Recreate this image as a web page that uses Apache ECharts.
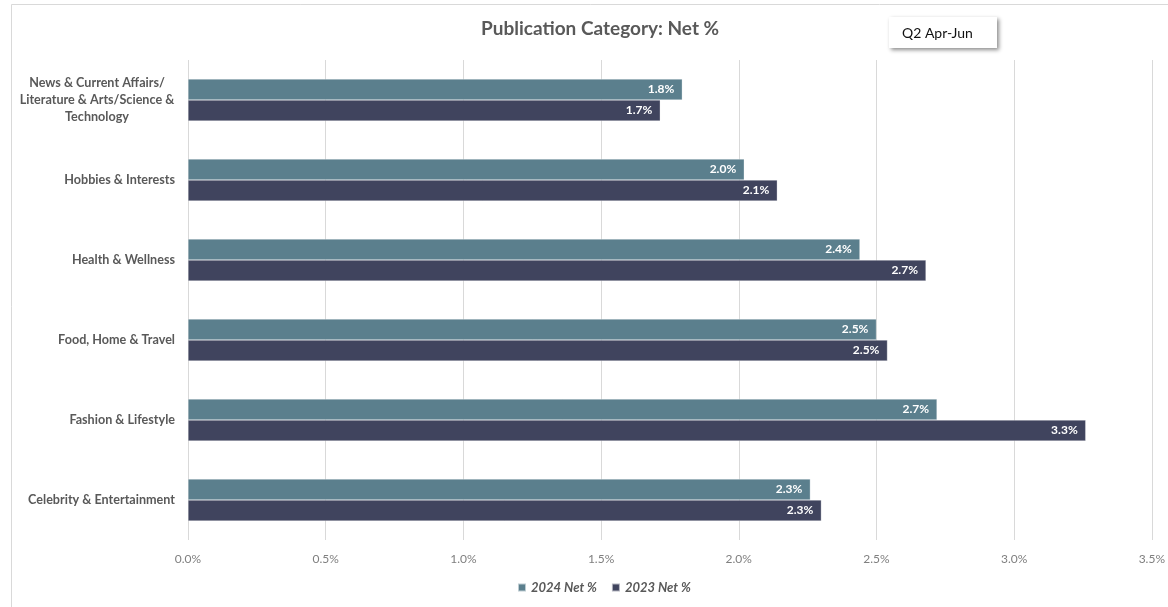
<!DOCTYPE html>
<html>
<head>
<meta charset="utf-8">
<script src="https://cdn.jsdelivr.net/npm/echarts@6/dist/echarts.min.js"></script>
<style>
  html, body { margin: 0; padding: 0; background: #fff; }
  #chart { width: 1168px; height: 607px; }
</style>
</head>
<body>
<div id="chart"></div>
<script>
// Publication categories, top to bottom
const categories = [
  'News & Current Affairs/\nLiterature & Arts/Science &\nTechnology',
  'Hobbies & Interests',
  'Health & Wellness',
  'Food, Home & Travel',
  'Fashion & Lifestyle',
  'Celebrity & Entertainment'
];
// Net % per category
const net2024 = [1.795, 2.02, 2.44, 2.50, 2.72, 2.26];
const net2023 = [1.715, 2.14, 2.68, 2.54, 3.26, 2.30];
const seriesNames = ['2024 Net %', '2023 Net %'];
const titleText = 'Publication Category: Net %';
const periodText = 'Q2 Apr-Jun';

const FONT = 'Lato, "Open Sans", sans-serif';
const pct = v => v.toFixed(1) + '%';

const chart = echarts.init(document.getElementById('chart'));

function barSeries(name, data, color) {
  return {
    name: name,
    type: 'bar',
    data: data,
    barWidth: 21,
    barGap: '0%',
    itemStyle: { color: color, borderColor: 'rgba(255,255,255,0.6)', borderWidth: 0.5 },
    label: {
      show: true,
      position: 'insideRight',
      distance: 8,
      color: '#ffffff',
      fontFamily: FONT,
      fontWeight: 'bold',
      fontSize: 12,
      formatter: p => pct(p.value)
    }
  };
}

chart.setOption({
  animation: false,
  backgroundColor: '#ffffff',
  textStyle: { fontFamily: FONT },
  title: {
    text: titleText,
    left: 476,
    top: 14,
    textStyle: { color: '#595959', fontSize: 19, fontWeight: 'bold', fontFamily: FONT }
  },
  legend: {
    bottom: 8,
    left: 512,
    itemWidth: 8,
    itemHeight: 8,
    itemGap: 14,
    icon: 'rect',
    textStyle: { color: '#595959', fontSize: 13, fontStyle: 'italic', fontWeight: 'bold', fontFamily: FONT },
    data: seriesNames
  },
  grid: { left: 188, right: 13, top: 60, bottom: 67, containLabel: false },
  xAxis: {
    type: 'value',
    min: 0,
    max: 3.5,
    interval: 0.5,
    axisLine: { show: false },
    axisTick: { show: false },
    splitLine: { show: true, lineStyle: { color: '#d9d9d9', width: 1 } },
    axisLabel: {
      color: '#7f7f7f',
      fontSize: 12,
      fontFamily: FONT,
      margin: 13,
      formatter: v => pct(v)
    }
  },
  yAxis: {
    type: 'category',
    data: categories,
    inverse: true,
    axisLine: { show: false },
    axisTick: { show: false },
    axisLabel: {
      margin: 13,
      color: '#595959',
      fontSize: 12.6,
      fontWeight: 'bold',
      fontFamily: FONT,
      lineHeight: 17,
      formatter: v => v.indexOf('\n') >= 0
        ? v.split('\n').map(s => '{c|' + s + '}').join('\n')
        : v,
      rich: {
        c: { width: 156, align: 'center', lineHeight: 17, color: '#595959', fontSize: 12.6, fontWeight: 'bold', fontFamily: FONT }
      }
    }
  },
  series: [
    barSeries(seriesNames[0], net2024, '#5b7f8d'),
    barSeries(seriesNames[1], net2023, '#40445e')
  ],
  graphic: [
    {
      type: 'rect',
      silent: true,
      z: -10,
      shape: { x: 11.5, y: 4.5, width: 1300, height: 800 },
      style: { fill: 'none', stroke: '#d9d9d9', lineWidth: 1 }
    },
    {
      type: 'group',
      left: 889,
      top: 17,
      children: [
        {
          type: 'rect',
          shape: { x: 0, y: 0, width: 108, height: 31 },
          style: {
            fill: '#ffffff',
            shadowBlur: 4,
            shadowOffsetX: 2,
            shadowOffsetY: 2,
            shadowColor: 'rgba(0,0,0,0.45)'
          }
        },
        {
          type: 'text',
          x: 13,
          y: 16,
          style: {
            text: periodText,
            fill: '#111111',
            font: '14px ' + FONT,
            textVerticalAlign: 'middle'
          }
        }
      ]
    }
  ]
});
</script>
</body>
</html>
